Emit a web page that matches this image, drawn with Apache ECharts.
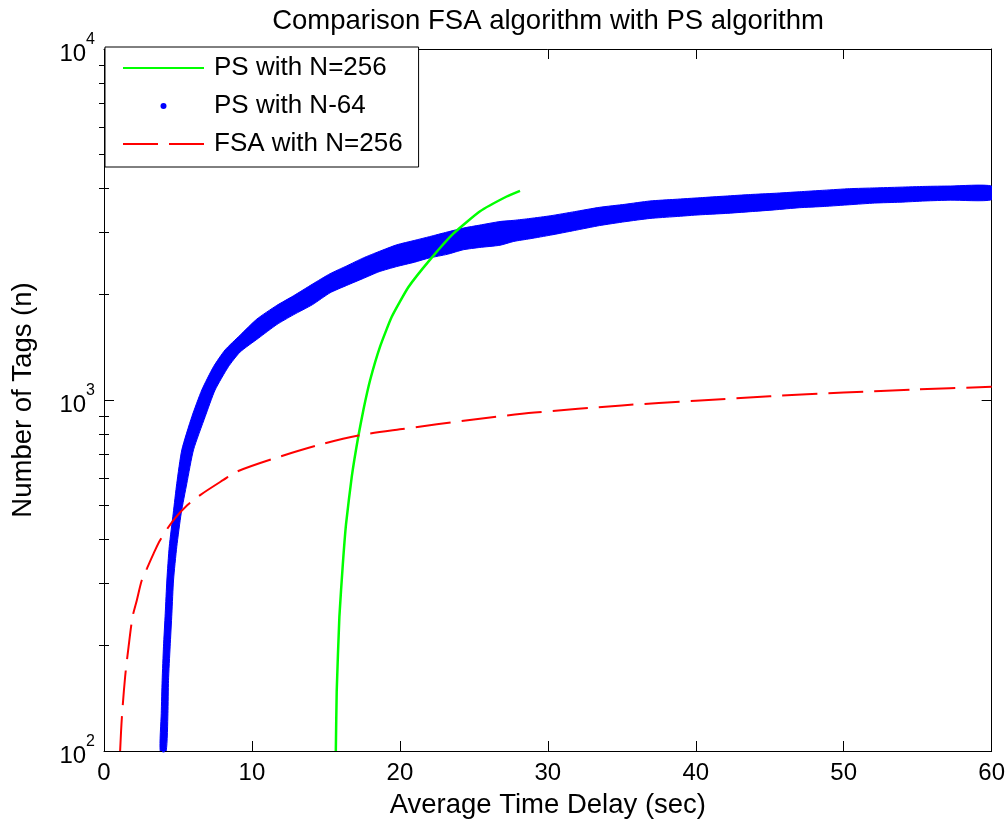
<!DOCTYPE html>
<html>
<head>
<meta charset="utf-8">
<script src="https://cdn.jsdelivr.net/npm/echarts@6/dist/echarts.min.js"></script>
<style>html,body{margin:0;padding:0;background:#fff;}#c{width:1008px;height:827px;}</style>
</head>
<body>
<div id="c"></div>
<script>
// ---- data ----
const titleText = 'Comparison FSA algorithm with PS algorithm';
const xTickValues = [0, 10, 20, 30, 40, 50, 60];
const yMajorTicks = [100, 1000, 10000];
const yMinorTicks = [200, 300, 400, 500, 600, 700, 800, 900, 2000, 3000, 4000, 5000, 6000, 7000, 8000, 9000];

// PS with N=256 (green)
const psN256Time = [15.67, 15.73, 15.91, 16.14, 16.36, 16.75, 17.20, 17.54, 17.99, 18.66, 19.45, 20.57, 22.04, 23.61, 25.42, 27.22, 28.12];
const psN256Tags = [100, 148, 241, 339, 443, 606, 792, 940, 1140, 1419, 1726, 2095, 2512, 2979, 3450, 3800, 3944];

// PS with N-64 (blue dots), centre of the cloud
const psN64Time = [4.02,4.05,4.07,4.10,4.14,4.19,4.25,4.30,4.36,4.41,4.47,4.53,4.59,4.66,4.74,4.81,4.88,4.96,5.04,5.15,5.26,5.37,5.49,5.63,5.78,5.91,6.05,6.22,6.39,6.55,6.72,6.89,7.06,7.28,7.51,7.90,8.30,8.65,8.98,9.50,10.0,10.78,11.5,12.2,13.03,14.1,15.28,16.4,17.53,18.6,19.79,20.9,22.04,23.2,24.29,25.4,26.55,27.7,28.8,30.15,31.8,33.53,35.2,36.9,38.6,40.28,42.0,43.66,45.3,47.0,48.7,50.4,52.1,53.8,55.5,57.2,58.6,59.9];
const psN64Tags = [100,115,128,143,159,178,198,222,247,270,294,318,343,370,399,422,445,470,497,530,566,617,660,710,750,780,810,850,897,935,975,1020,1068,1118,1165,1244,1315,1382,1430,1490,1560,1660,1740,1815,1895,2000,2150,2260,2370,2480,2580,2665,2737,2815,2891,2940,2987,3035,3080,3145,3245,3337,3410,3484,3525,3560,3600,3640,3680,3718,3760,3801,3825,3845,3868,3889,3895,3900];

// outline of the blue dot cloud (upper/left edge, then lower/right edge back)
const bandTime = [3.80,3.87,3.93,4.02,4.14,4.25,4.41,4.68,4.92,5.26,5.94,6.61,7.40,8.19,9.20,10.33,11.68,12.8,14.1,15.28,16.4,17.53,18.6,19.79,21,22,23.2,24.3,25.4,26.77,27.7,28.8,30.2,31.8,33.5,35.2,36.9,38.6,40.3,42,43.7,45.3,47,48.7,50.4,52.1,53.8,55.5,57.2,60,
  60,57.2,55.5,53.8,52.1,50.4,48.7,47,45.3,43.7,42,40.3,38.6,36.9,35.2,33.5,31.8,30.2,28.8,27.7,26.77,25.4,24.3,23.2,22,21,19.79,18.6,17.53,16.4,15.28,14.1,12.8,11.68,10.44,9.20,8.41,7.51,6.84,6.05,5.60,5.22,4.92,4.70,4.59,4.47,4.36,4.32,4.20];
const bandTags = [100,128,159,198,247,307,382,476,579,721,897,1068,1244,1390,1530,1700,1860,1980,2140,2290,2410,2540,2650,2768,2850,2920,3010,3090,3150,3225,3250,3290,3350,3440,3540,3610,3690,3730,3770,3810,3850,3880,3920,3960,4000,4020,4040,4060,4070,4070,
  3720,3710,3690,3660,3640,3600,3560,3530,3480,3440,3400,3370,3330,3290,3220,3140,3040,2950,2880,2830,2760,2720,2680,2600,2540,2470,2400,2320,2220,2120,2020,1870,1748,1640,1500,1370,1244,1068,897,721,579,476,382,307,247,198,159,128,100];

// FSA with N=256 (red dashed)
const fsaTime = [1.09, 1.21, 1.43, 1.66, 1.93, 2.22, 2.56, 2.90, 3.35, 3.80, 4.70, 5.64, 6.50, 8.07, 8.98, 11.34, 14.6, 17.2, 20, 25, 29.1, 35, 40, 45, 50, 55, 60];
const fsaTags = [100, 125, 163, 198, 241, 269, 307, 331, 365, 399, 455, 502, 536, 592, 625, 678, 746, 792, 825, 880, 921, 965, 995, 1025, 1050, 1072, 1090];

// ---- chart ----
const FONT = 'Liberation Sans';
const pairs = (a, b) => a.map((v, i) => [v, b[i]]);
const chart = echarts.init(document.getElementById('c'), null, { renderer: 'canvas' });

const frameLine = { show: true, onZero: false, lineStyle: { color: '#000', width: 1 } };
const yLog = { type: 'log', logBase: 10, min: 100, max: 10000, splitLine: { show: false } };
const noDot = { color: 'rgba(0,0,0,0)', borderWidth: 0 };

const option = {
  animation: false,
  backgroundColor: '#fff',
  title: {
    text: titleText, left: 548, top: 7, textAlign: 'center', padding: 0,
    textStyle: { fontFamily: FONT, fontSize: 27.5, fontWeight: 'normal', color: '#000' }
  },
  grid: { left: 104, right: 16, top: 49, bottom: 76 },
  legend: {
    data: [
      { name: 'PS with N=256', itemStyle: noDot },
      { name: 'PS with N-64' },
      { name: 'FSA with N=256', itemStyle: noDot }
    ],
    orient: 'vertical', left: 105, top: 47,
    padding: [8, 16, 10, 17], itemGap: 12, itemWidth: 81, itemHeight: 6,
    backgroundColor: '#fff', borderColor: '#000', borderWidth: 1, borderRadius: 0,
    selectedMode: false,
    textStyle: { fontFamily: FONT, fontSize: 26, color: '#000', padding: [0, 0, 0, 5] }
  },
  xAxis: [
    {
      type: 'value', min: 0, max: 60, interval: 10, position: 'bottom',
      name: 'Average Time Delay (sec)', nameLocation: 'middle', nameGap: 40,
      nameTextStyle: { fontFamily: FONT, fontSize: 27.5, color: '#000' },
      axisLine: frameLine,
      axisTick: { inside: true, length: 10, lineStyle: { color: '#000' } },
      axisLabel: { fontFamily: FONT, fontSize: 24, color: '#000', margin: 10, customValues: xTickValues },
      splitLine: { show: false }
    },
    {
      type: 'value', min: 0, max: 60, interval: 10, position: 'top',
      axisLine: frameLine,
      axisTick: { inside: true, length: 10, lineStyle: { color: '#000' } },
      axisLabel: { show: false }, splitLine: { show: false }
    }
  ],
  yAxis: [
    Object.assign({}, yLog, {
      position: 'left',
      name: 'Number of Tags (n)', nameLocation: 'middle', nameGap: 67, nameRotate: 90,
      nameTextStyle: { fontFamily: FONT, fontSize: 27.5, color: '#000' },
      axisLine: frameLine,
      axisTick: { inside: true, length: 10, lineStyle: { color: '#000' }, customValues: yMajorTicks },
      axisLabel: {
        customValues: yMajorTicks, margin: 9,
        formatter: v => '{b|10}{s|' + Math.round(Math.log10(v)) + '}',
        rich: {
          b: { fontFamily: FONT, fontSize: 24, color: '#000', verticalAlign: 'bottom', padding: [10, 0, 0, 0] },
          s: { fontFamily: FONT, fontSize: 16, color: '#000', verticalAlign: 'top' }
        }
      }
    }),
    Object.assign({}, yLog, {
      position: 'left', axisLine: { show: false },
      axisTick: { inside: true, length: 5, lineStyle: { color: '#000' }, customValues: yMinorTicks },
      axisLabel: { show: false }
    }),
    Object.assign({}, yLog, {
      position: 'right', axisLine: frameLine,
      axisTick: { inside: true, length: 10, lineStyle: { color: '#000' }, customValues: yMajorTicks },
      axisLabel: { show: false }
    }),
    Object.assign({}, yLog, {
      position: 'right', axisLine: { show: false },
      axisTick: { inside: true, length: 5, lineStyle: { color: '#000' }, customValues: yMinorTicks },
      axisLabel: { show: false }
    })
  ],
  series: [
    {
      type: 'custom', name: 'cloud', coordinateSystem: 'cartesian2d', silent: true, z: 1, clip: true,
      xAxisIndex: 0, yAxisIndex: 0,
      data: pairs(bandTime, bandTags),
      encode: { x: 0, y: 1 },
      renderItem: (params, api) => {
        if (params.dataIndex !== 0) return null;
        const pts = bandTime.map((t, i) => api.coord([t, bandTags[i]]));
        return { type: 'polygon', shape: { points: pts, smooth: 0.2 }, style: { fill: '#0000ff', stroke: '#0000ff', lineWidth: 1 } };
      }
    },
    {
      type: 'scatter', name: 'PS with N-64', xAxisIndex: 0, yAxisIndex: 0, z: 2,
      data: pairs(psN64Time, psN64Tags),
      symbol: 'circle', symbolSize: 3,
      itemStyle: { color: '#0000ff', opacity: 1 }
    },
    {
      type: 'line', name: 'PS with N=256', xAxisIndex: 0, yAxisIndex: 0, z: 3,
      data: pairs(psN256Time, psN256Tags),
      symbol: 'none', smooth: 0.15,
      lineStyle: { color: '#00ff00', width: 2.5 },
      itemStyle: { color: '#00ff00' }
    },
    {
      type: 'line', name: 'FSA with N=256', xAxisIndex: 0, yAxisIndex: 0, z: 4,
      data: pairs(fsaTime, fsaTags),
      symbol: 'none', smooth: 0.3,
      lineStyle: { color: '#ff0000', width: 2, type: [35, 11] },
      itemStyle: { color: '#ff0000' }
    }
  ]
};
chart.setOption(option);
</script>
</body>
</html>
